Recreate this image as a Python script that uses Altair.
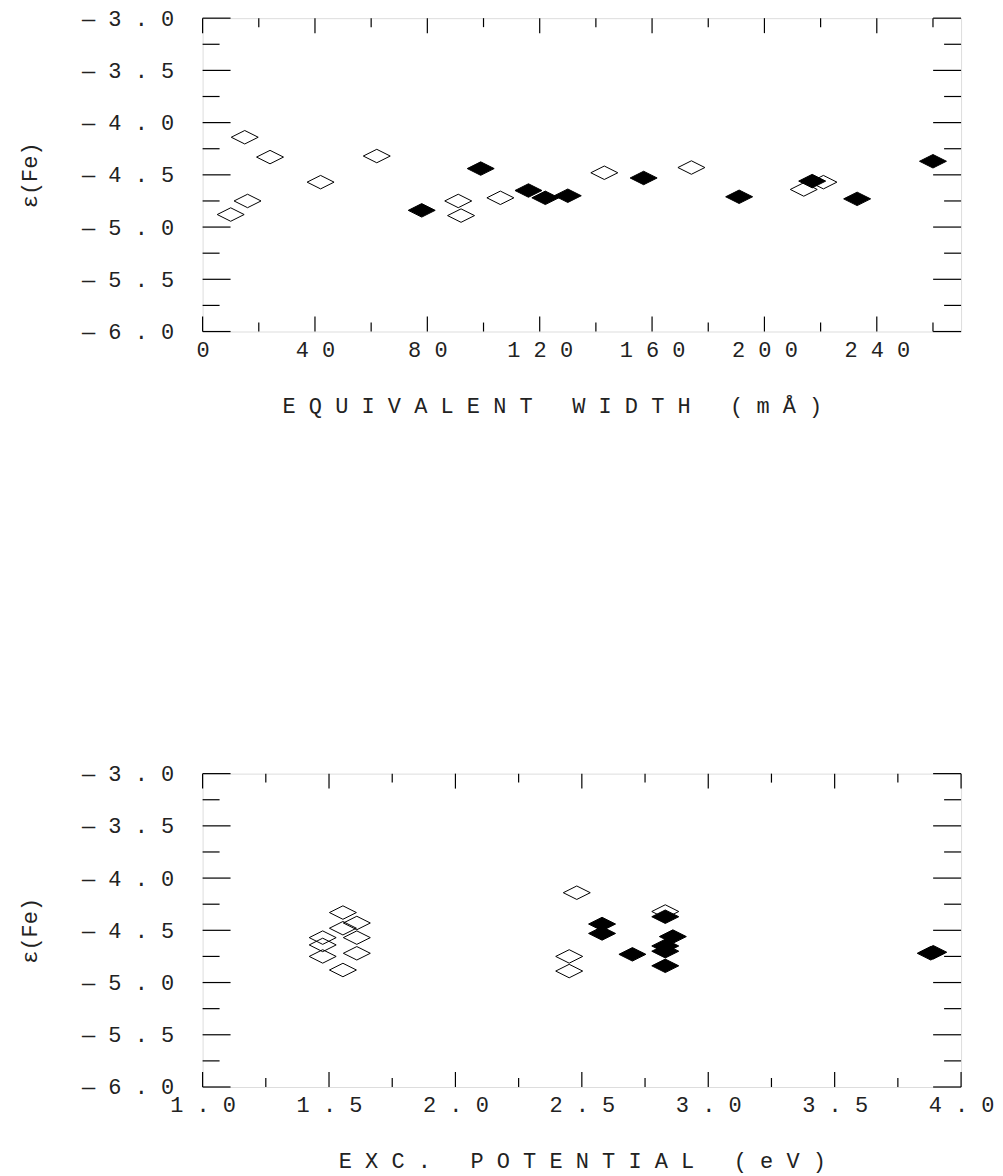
import altair as alt
import pandas as pd

# ---- data ----
open_ew = [15, 24, 62, 42, 16, 10, 91, 92, 106, 143, 174, 214, 221]
open_ep = [2.48, 1.555, 2.83, 1.61, 1.475, 1.555, 2.45, 2.45, 1.61, 1.555, 1.61, 1.475, 1.475]
open_ab = [-4.14, -4.33, -4.32, -4.57, -4.75, -4.88, -4.75, -4.89, -4.72, -4.48, -4.43, -4.64, -4.57]

filled_ew = [78, 99, 116, 122, 130, 157, 191, 217, 233, 260]
filled_ep = [2.83, 2.58, 2.83, 3.88, 2.83, 2.58, 3.89, 2.86, 2.70, 2.83]
filled_ab = [-4.84, -4.44, -4.65, -4.72, -4.70, -4.53, -4.71, -4.56, -4.73, -4.37]

# ---- axis ticks / labels ----
ew_major = [0, 40, 80, 120, 160, 200, 240]
ew_minor = [20, 60, 100, 140, 180, 220, 260]
ep_major = [1.0, 1.5, 2.0, 2.5, 3.0, 3.5, 4.0]
ep_minor = [1.25, 1.75, 2.25, 2.75, 3.25, 3.75]
ab_major = [-6.0, -5.5, -5.0, -4.5, -4.0, -3.5, -3.0]
ab_minor = [-5.75, -5.25, -4.75, -4.25, -3.75, -3.25]

W, H = 760, 314
DIAMOND = "M-1,0L0,-0.5L1,0L0,0.5Z"
FONT = "Liberation Mono"
NB = "\u00a0"
X_LABELS = "join(split(datum.label, ''), '\u00a0')"
Y_LABELS = "'\u2014\u00a0' + join(split(format(abs(datum.value), '.1f'), ''), '\u00a0')"

open_df = pd.DataFrame({"ew": open_ew, "ep": open_ep, "ab": open_ab})
filled_df = pd.DataFrame({"ew": filled_ew, "ep": filled_ep, "ab": filled_ab})


def spaced(s):
    return NB.join(NB if c == " " else c for c in s)


def panel(xfield, xdomain, xmajor, xminor, xfmt, xtitle, title_x):
    xs = alt.Scale(domain=xdomain, nice=False, zero=False)
    ys = alt.Scale(domain=[-6, -3], nice=False, zero=False)
    xaxis = alt.Axis(values=xmajor, format=xfmt, labelExpr=X_LABELS, ticks=False, tickSize=0,
                     domain=False, grid=False, labelPadding=8, labelFont=FONT, labelFontSize=22,
                     labelColor="#222", labelOverlap=False, labelFlush=False, labelBound=False,
                     title=spaced(xtitle), titleFont=FONT, titleFontSize=22, titleFontWeight="normal",
                     titleColor="#222", titlePadding=35, titleX=title_x, titleAlign="center")
    yaxis = alt.Axis(values=ab_major, format=".1f", labelExpr=Y_LABELS, ticks=False, tickSize=0,
                     domain=False, grid=False, labelPadding=29, labelFont=FONT, labelFontSize=22,
                     labelColor="#222", labelOverlap=False, labelFlush=False, labelBound=False,
                     title="ε(Fe)", titleFont=FONT, titleFontSize=22, titleFontWeight="normal",
                     titleColor="#222", titlePadding=40)

    def X(f):
        return alt.X(f, scale=xs, axis=xaxis)

    def Y(f):
        return alt.Y(f, scale=ys, axis=yaxis)

    opn = alt.Chart(open_df).mark_point(shape=DIAMOND, filled=False, stroke="black",
                                        strokeWidth=1, size=729, opacity=1).encode(
        x=X(f"{xfield}:Q"), y=Y("ab:Q"))
    fil = alt.Chart(filled_df).mark_point(shape=DIAMOND, filled=True, fill="black",
                                          stroke="black", strokeWidth=1, size=729, opacity=1).encode(
        x=X(f"{xfield}:Q"), y=Y("ab:Q"))

    def yticks(vals, length):
        d = pd.DataFrame({"ab": vals})
        left = alt.Chart(d).mark_rule(color="black", strokeWidth=1.2).encode(
            y=Y("ab:Q"), x=alt.value(0), x2=alt.value(length))
        right = alt.Chart(d).mark_rule(color="black", strokeWidth=1.2).encode(
            y=Y("ab:Q"), x=alt.value(W), x2=alt.value(W - length))
        return [left, right]

    def xticks(vals, length):
        d = pd.DataFrame({xfield: vals})
        bot = alt.Chart(d).mark_rule(color="black", strokeWidth=1.2).encode(
            x=X(f"{xfield}:Q"), y=alt.value(H), y2=alt.value(H - length))
        top = alt.Chart(d).mark_rule(color="black", strokeWidth=1.2).encode(
            x=X(f"{xfield}:Q"), y=alt.value(0), y2=alt.value(length))
        return [bot, top]

    layers = [opn, fil] + yticks(ab_major, 28) + yticks(ab_minor, 17) \
        + xticks(xmajor, 15) + xticks(xminor, 9)
    return alt.layer(*layers).properties(width=W, height=H)


top = panel("ew", [0, 270], ew_major, ew_minor, "d", "EQUIVALENT WIDTH (mÅ)", 350)
bottom = panel("ep", [1, 4], ep_major, ep_minor, ".1f", "EXC. POTENTIAL (eV)", W / 2)

chart = alt.vconcat(top, bottom, spacing=345).properties(
    padding={"left": 10, "top": -3, "right": 0, "bottom": 0}
).configure_view(stroke="black", strokeWidth=2).configure(background="white")

chart.save("out.html", embed_options={"renderer": "svg", "actions": False})
